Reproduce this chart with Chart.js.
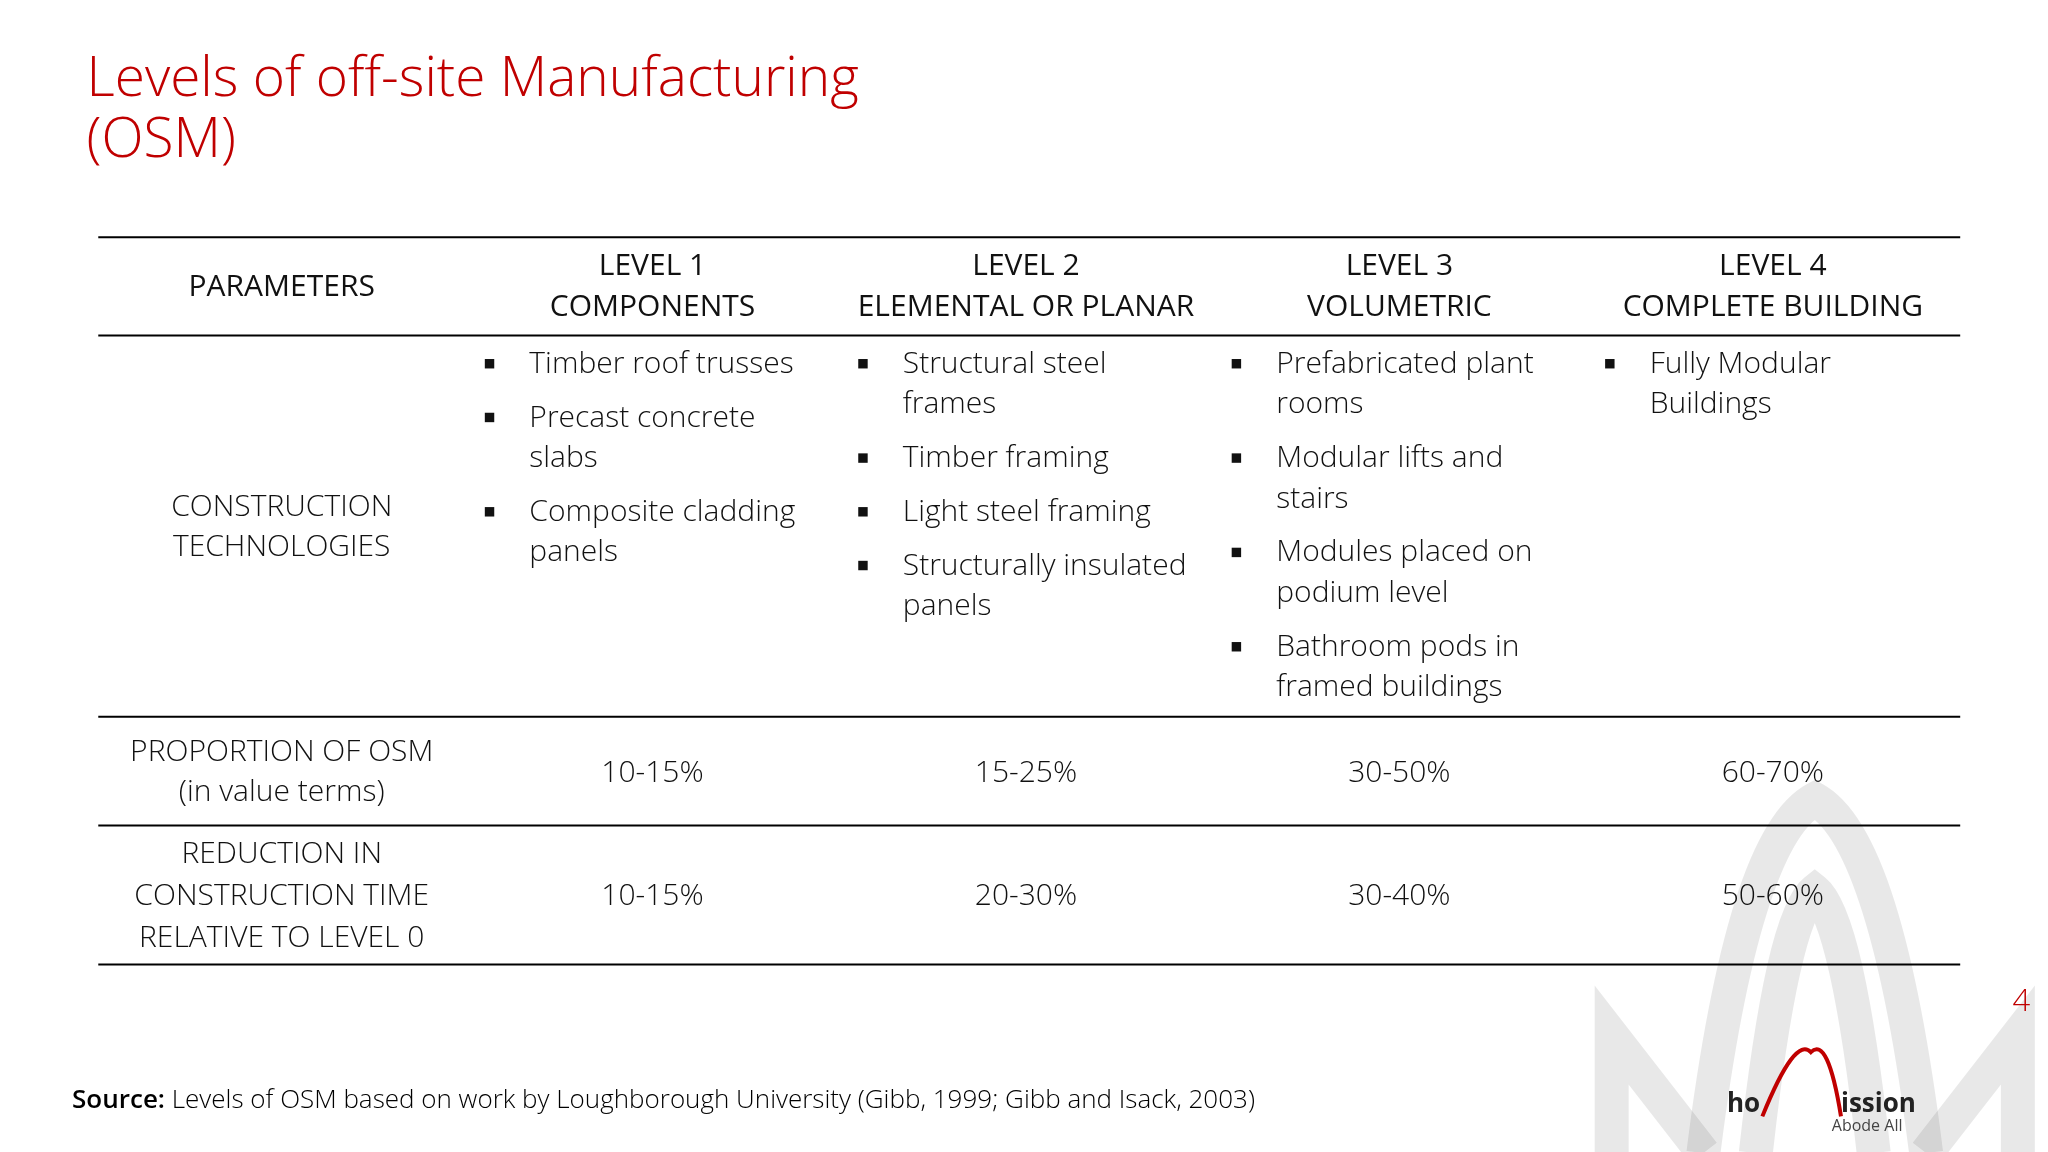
<!DOCTYPE html>
<html><head><meta charset="utf-8">
<script src="https://cdn.jsdelivr.net/npm/chart.js@4"></script>
<style>html,body{margin:0;padding:0;background:#fff;}#wrap{width:2048px;height:1152px;}</style>
</head><body><div id="wrap"><canvas id="c" width="2048" height="1152"></canvas></div>
<script>
const titleLines = ["Levels of off-site Manufacturing", "(OSM)"];
const headers = [["PARAMETERS"], ["LEVEL 1", "COMPONENTS"], ["LEVEL 2", "ELEMENTAL OR PLANAR"], ["LEVEL 3", "VOLUMETRIC"], ["LEVEL 4", "COMPLETE BUILDING"]];
const rowLabels = [["CONSTRUCTION", "TECHNOLOGIES"], ["PROPORTION OF OSM", "(in value terms)"], ["REDUCTION IN", "CONSTRUCTION TIME", "RELATIVE TO LEVEL 0"]];
const technologies = [
  [["Timber roof trusses"], ["Precast concrete", "slabs"], ["Composite cladding", "panels"]],
  [["Structural steel", "frames"], ["Timber framing"], ["Light steel framing"], ["Structurally insulated", "panels"]],
  [["Prefabricated plant", "rooms"], ["Modular lifts and", "stairs"], ["Modules placed on", "podium level"], ["Bathroom pods in", "framed buildings"]],
  [["Fully Modular", "Buildings"]]
];
const proportion = ["10-15%", "15-25%", "30-50%", "60-70%"];
const reduction = ["10-15%", "20-30%", "30-40%", "50-60%"];
const sourceBold = "Source:";
const sourceText = " Levels of OSM based on work by Loughborough University (Gibb, 1999; Gibb and Isack, 2003)";
const pageNum = "4";

const S = 2048/1563;
const colCenters = [215, 498, 783, 1068, 1353];
const bulletX = [373, 658, 943, 1228];
const hLines = [181, 256, 547, 630, 736];

const tablePlugin = {
  id: 'table',
  afterDraw(chart) {
    const ctx = chart.ctx, xs = chart.scales.x, ys = chart.scales.y;
    const X = v => xs.getPixelForValue(v*S), Y = v => ys.getPixelForValue(v*S);
    ctx.save();
    ctx.textBaseline = 'middle';
    ctx.strokeStyle = 'rgba(0,0,0,0.09)'; ctx.lineWidth = 34;
    ctx.beginPath(); ctx.moveTo(X(1230),Y(880)); ctx.lineTo(X(1230),Y(790)); ctx.lineTo(X(1300),Y(880)); ctx.stroke();
    ctx.beginPath(); ctx.moveTo(X(1300),Y(880)); ctx.quadraticCurveTo(X(1330),Y(640),X(1385),Y(610)); ctx.quadraticCurveTo(X(1440),Y(640),X(1470),Y(880)); ctx.stroke();
    ctx.beginPath(); ctx.moveTo(X(1340),Y(880)); ctx.quadraticCurveTo(X(1360),Y(700),X(1385),Y(680)); ctx.quadraticCurveTo(X(1410),Y(700),X(1430),Y(880)); ctx.stroke();
    ctx.beginPath(); ctx.moveTo(X(1470),Y(880)); ctx.lineTo(X(1540),Y(790)); ctx.lineTo(X(1540),Y(880)); ctx.stroke();
    ctx.fillStyle = '#222'; ctx.font = `bold ${Math.round(20*S)}px "Open Sans"`; ctx.textAlign='left';
    ctx.fillText('ho', X(1318), Y(843));
    ctx.fillText('ission', X(1405), Y(843));
    ctx.strokeStyle = '#c00000'; ctx.lineWidth = 4;
    ctx.beginPath(); ctx.moveTo(X(1345),Y(852)); ctx.quadraticCurveTo(X(1370),Y(790),X(1382),Y(803)); ctx.quadraticCurveTo(X(1395),Y(790),X(1405),Y(852)); ctx.stroke();
    ctx.fillStyle = '#444'; ctx.font = `${Math.round(12*S)}px "Open Sans"`;
    ctx.fillText('Abode All', X(1398), Y(860));
    ctx.fillStyle = '#c00000'; ctx.textAlign = 'left';
    ctx.font = `300 ${Math.round(42*S)}px "Open Sans"`;
    titleLines.forEach((t,i)=>ctx.fillText(t, X(66), Y(61+i*47)));
    ctx.strokeStyle = '#000'; ctx.lineWidth = 2;
    hLines.forEach(h=>{ctx.beginPath(); ctx.moveTo(X(75),Y(h)); ctx.lineTo(X(1496),Y(h)); ctx.stroke();});
    ctx.fillStyle = '#111'; ctx.textAlign = 'center';
    ctx.font = `400 ${Math.round(23*S)}px "Open Sans"`;
    headers.forEach((h,i)=>{
      if (h.length===1) ctx.fillText(h[0], X(colCenters[i]), Y(219));
      else h.forEach((t,j)=>ctx.fillText(t, X(colCenters[i]), Y(203+j*32)));
    });
    ctx.font = `300 ${Math.round(23*S)}px "Open Sans"`;
    const rowY = [[387,418],[574,605],[652,684,716]];
    rowLabels.forEach((r,i)=>r.forEach((t,j)=>ctx.fillText(t, X(215), Y(rowY[i][j]))));
    proportion.forEach((v,i)=>ctx.fillText(v, X(colCenters[i+1]), Y(590)));
    reduction.forEach((v,i)=>ctx.fillText(v, X(colCenters[i+1]), Y(684)));
    ctx.textAlign = 'left';
    technologies.forEach((items,c)=>{
      let y = 278;
      items.forEach(lines=>{
        ctx.fillRect(X(bulletX[c]-3), Y(y-4), 8*S*0.9, 8*S*0.9);
        lines.forEach((t,j)=>ctx.fillText(t, X(bulletX[c]+31), Y(y+j*31)));
        y += lines.length*31 + 10;
      });
    });
    ctx.font = `600 ${Math.round(20*S)}px "Open Sans"`;
    ctx.fillStyle = '#000';
    ctx.fillText(sourceBold, X(55), Y(840));
    const w = ctx.measureText(sourceBold).width;
    ctx.font = `300 ${Math.round(20*S)}px "Open Sans"`;
    ctx.fillText(sourceText, X(55)+w, Y(840));
    ctx.fillStyle = '#c00000'; ctx.font = `300 ${Math.round(24*S)}px "Open Sans"`;
    ctx.fillText(pageNum, X(1536), Y(765));
    ctx.restore();
  }
};

new Chart(document.getElementById('c'), {
  type: 'scatter',
  data: { datasets: [{ data: [] }] },
  options: {
    responsive: false, animation: false, devicePixelRatio: 1,
    layout: { padding: 0 },
    plugins: { legend: { display: false }, tooltip: { enabled: false } },
    scales: {
      x: { type: 'linear', min: 0, max: 2048, display: false },
      y: { type: 'linear', min: 0, max: 1152, reverse: true, display: false }
    }
  },
  plugins: [tablePlugin]
});
</script></body></html>
